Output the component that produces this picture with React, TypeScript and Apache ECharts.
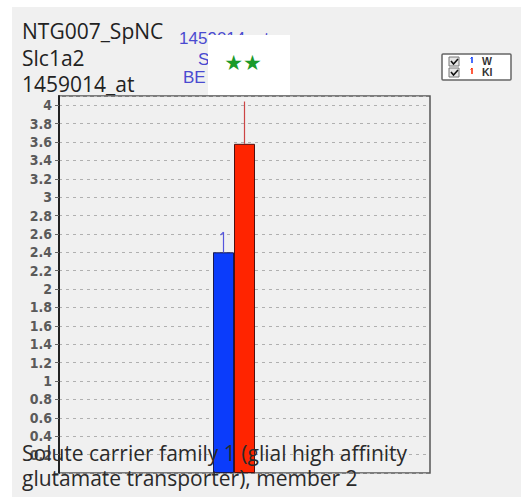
import React, { useEffect, useRef } from "react";
import * as echarts from "echarts";

// ---- data ----
const categories = ["1459014_at"];
const seriesNames = ["W", "KI"];
const meanW = [2.4];
const meanKI = [3.58];
const upperW = [2.62];
const upperKI = [4.04];
const titleLines = ["NTG007_SpNC", "Slc1a2", "1459014_at"];
const probeLines = ["1459014_at", "Slc1a2", "BE"];
const captionLines = [
  "Solute carrier family 1 (glial high affinity",
  "glutamate transporter), member 2",
];
const significance = "★★";
const yMin = 0;
const yMax = 4.1;
const yStep = 0.2;

const BAR_W = 21;
const BLUE = "#0b3cfb";
const RED = "#ff2400";

function errSeries(name: string, means: number[], uppers: number[], offset: number, color: string, cap: boolean) {
  return {
    type: "custom",
    name: name + " err",
    z: 5,
    silent: true,
    data: means.map((m, i) => [i, m, uppers[i]]),
    renderItem: (params: any, api: any) => {
      const base = api.coord([api.value(0), api.value(1)]);
      const top = api.coord([api.value(0), api.value(2)]);
      const x = base[0] + offset;
      const children: any[] = [
        { type: "line", shape: { x1: x, y1: base[1], x2: x, y2: top[1] }, style: { stroke: color, lineWidth: 1.2 } },
      ];
      if (cap) {
        children.push({ type: "line", shape: { x1: x - 3, y1: top[1] + 3, x2: x, y2: top[1] }, style: { stroke: color, lineWidth: 1.2 } });
      }
      return { type: "group", children };
    },
  };
}

export default function App() {
  const ref = useRef<HTMLDivElement>(null);
  useEffect(() => {
    if (!ref.current) return;
    const chart = echarts.init(ref.current, null, { renderer: "svg" });
    const titleFont = '"Open Sans", "Liberation Sans", sans-serif';
    const graphic: any[] = [
      { type: "rect", z: 100, shape: { x: 0, y: 0, width: 12, height: 497 }, style: { fill: "#ffffff" } },
      { type: "rect", z: 100, shape: { x: 0, y: 0, width: 521, height: 7 }, style: { fill: "#ffffff" } },
    ];
    const titleY = [31, 58, 84];
    titleLines.forEach((t, i) => {
      graphic.push({
        type: "text", z: 50, x: 22, y: titleY[i],
        style: { text: t, fontFamily: titleFont, fontSize: 21, fill: "#222", align: "left", verticalAlign: "middle" },
      });
    });
    const probeY = [38, 59, 77];
    probeLines.forEach((t, i) => {
      graphic.push({
        type: "text", z: 50, x: i === 2 ? 183 : 224, y: probeY[i],
        style: { text: t, fontFamily: '"Liberation Sans", Arial, sans-serif', fontSize: 17, fill: "#4a4ad0", align: i === 2 ? "left" : "center", verticalAlign: "middle" },
      });
    });
    graphic.push({ type: "rect", z: 60, shape: { x: 208, y: 35, width: 82, height: 60 }, style: { fill: "#ffffff" } });
    graphic.push({
      type: "text", z: 61, x: 243, y: 63,
      style: { text: significance, fontFamily: '"DejaVu Sans", sans-serif', fontSize: 21, fill: "#1a9a2a", align: "center", verticalAlign: "middle" },
    });
    // legend
    graphic.push({ type: "rect", z: 60, shape: { x: 442, y: 54, width: 69, height: 26, r: 1 }, style: { fill: "#ffffff", stroke: "#666", lineWidth: 1.5 } });
    const legColors = [BLUE, RED];
    seriesNames.forEach((n, i) => {
      const y0 = 57 + i * 11;
      graphic.push({ type: "rect", z: 61, shape: { x: 449, y: y0, width: 10, height: 9 }, style: { fill: "#e6e6e6", stroke: "#777", lineWidth: 1 } });
      graphic.push({ type: "polyline", z: 62, shape: { points: [[451, y0 + 4], [453.5, y0 + 7], [458, y0 + 2]] }, style: { stroke: "#111", lineWidth: 1.6, fill: null } });
      graphic.push({ type: "line", z: 62, shape: { x1: 472, y1: y0, x2: 472, y2: y0 + 6 }, style: { stroke: legColors[i], lineWidth: 1.5 } });
      graphic.push({ type: "line", z: 62, shape: { x1: 470.5, y1: y0 + 1.5, x2: 472, y2: y0 }, style: { stroke: legColors[i], lineWidth: 1 } });
      graphic.push({
        type: "text", z: 62, x: 482, y: y0 + 4,
        style: { text: n, fontFamily: '"Liberation Sans", Arial, sans-serif', fontSize: 10.5, fontWeight: "bold", fill: "#333", align: "left", verticalAlign: "middle" },
      });
    });
    const capY = [453, 478];
    captionLines.forEach((t, i) => {
      graphic.push({
        type: "text", z: 50, x: 22, y: capY[i],
        style: { text: t, fontFamily: titleFont, fontSize: 21, fill: "#2a2a2a", align: "left", verticalAlign: "middle" },
      });
    });

    chart.setOption({
      animation: false,
      backgroundColor: "#f0f0f0",
      grid: { left: 59, right: 91, top: 96, bottom: 24, show: true, borderColor: "#555", borderWidth: 1.5, backgroundColor: "transparent" },
      xAxis: {
        type: "category",
        data: categories,
        axisLabel: { show: false },
        axisTick: { show: false },
        axisLine: { show: false },
        splitLine: { show: false },
      },
      yAxis: {
        type: "value",
        min: yMin,
        max: yMax,
        interval: yStep,
        axisLine: { show: true, lineStyle: { color: "#222", width: 2 } },
        axisTick: { show: true, length: 4, lineStyle: { color: "#666" } },
        splitLine: { show: true, lineStyle: { color: "#b0b0b0", type: [3, 4], width: 1.2 } },
        axisLabel: {
          showMaxLabel: false,
          margin: 7,
          fontFamily: '"Liberation Sans Narrow", "DejaVu Sans Condensed", sans-serif',
          fontWeight: "bold",
          fontSize: 14,
          color: "#5a5a5a",
          formatter: (v: number) => (v < 0.01 || v > 4.01 ? "" : String(Number(v.toFixed(1)))),
        },
      },
      series: [
        { type: "bar", name: seriesNames[0], data: meanW, barWidth: BAR_W, barGap: "0%", itemStyle: { color: BLUE, borderColor: "#1a1a50", borderWidth: 1 } },
        { type: "bar", name: seriesNames[1], data: meanKI, barWidth: BAR_W, barGap: "0%", itemStyle: { color: RED, borderColor: "#501010", borderWidth: 1 } },
        { type: "bar", name: "spacer", data: ["-"], barWidth: BAR_W, barGap: "0%", silent: true, itemStyle: { color: "transparent" } },
        errSeries(seriesNames[0], meanW, upperW, -BAR_W, "#5555dd", true),
        errSeries(seriesNames[1], meanKI, upperKI, 0, "#cc4444", false),
      ],
      graphic,
    });
    return () => chart.dispose();
  }, []);
  return <div ref={ref} style={{ position: "fixed", left: 0, top: 0, width: 521, height: 497 }} />;
}
